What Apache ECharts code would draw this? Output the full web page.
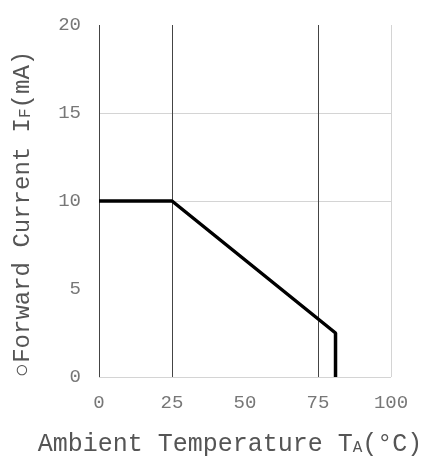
<!DOCTYPE html>
<html>
<head>
<meta charset="utf-8">
<script src="https://cdn.jsdelivr.net/npm/echarts@6/dist/echarts.min.js"></script>
<style>html,body{margin:0;padding:0;background:#fff;}#c{width:429px;height:456px;}</style>
</head>
<body>
<div id="c"></div>
<script>
var temperature = [0, 25, 81, 81];
var current = [10, 10, 2.5, 0];
var xTicks = [0, 25, 50, 75, 100];
var yTicks = [0, 5, 10, 15, 20];

var chart = echarts.init(document.getElementById('c'), null, {renderer: 'canvas'});
var font = 'Liberation Mono';
chart.setOption({
  animation: false,
  backgroundColor: '#fff',
  grid: {left: 99, right: 38, top: 25, bottom: 79, containLabel: false, outerBoundsMode: 'none'},
  xAxis: {
    type: 'value', min: 0, max: 100, interval: 25,
    name: 'Ambient Temperature T{s|A}(°C)',
    nameLocation: 'middle', nameGap: 55,
    nameTextStyle: {fontFamily: font, fontSize: 25, color: '#555', padding: [0, 30, 0, 0],
      rich: {s: {fontFamily: font, fontSize: 16, color: '#555', padding: [6, 0, 0, 0]}}},
    axisLine: {show: false}, axisTick: {show: false},
    axisLabel: {fontFamily: font, fontSize: 19, color: '#777', margin: 16},
    splitLine: {show: true, lineStyle: {color: ['#444', '#444', 'rgba(0,0,0,0)', '#444', '#d4d4d4'], width: 1}}
  },
  yAxis: {
    type: 'value', min: 0, max: 20, interval: 5,
    name: '○Forward Current I{s|F}(mA)',
    nameLocation: 'middle', nameGap: 64,
    nameTextStyle: {fontFamily: font, fontSize: 24, color: '#555', padding: [0, 26, 0, 0],
      rich: {s: {fontFamily: font, fontSize: 16, color: '#555', padding: [6, 0, 0, 0]}}},
    axisLine: {show: false}, axisTick: {show: false},
    axisLabel: {fontFamily: font, fontSize: 19, color: '#777', margin: 18},
    splitLine: {show: true, lineStyle: {color: ['#d4d4d4', 'rgba(0,0,0,0)', '#d4d4d4', '#d4d4d4', 'rgba(0,0,0,0)'], width: 1}}
  },
  series: [{
    type: 'line',
    data: temperature.map(function (t, i) { return [t, current[i]]; }),
    showSymbol: false,
    lineStyle: {color: '#000', width: 3.5},
    itemStyle: {color: '#000'}
  }]
});
</script>
</body>
</html>
